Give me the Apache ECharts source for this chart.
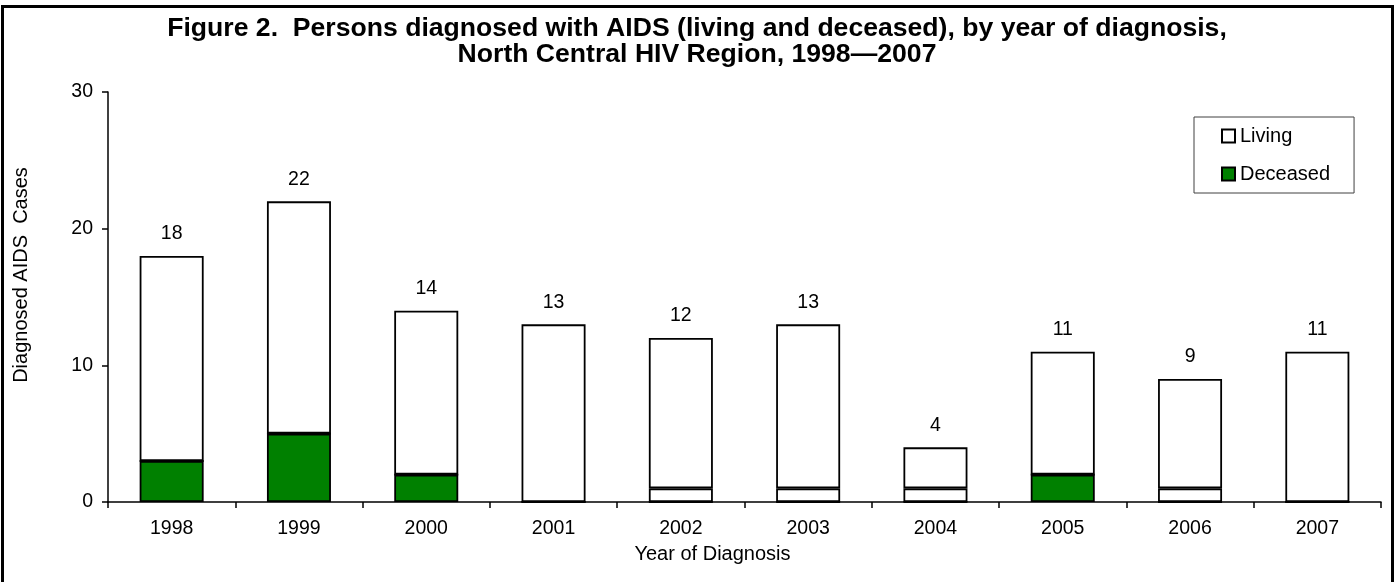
<!DOCTYPE html>
<html>
<head>
<meta charset="utf-8">
<script src="https://cdn.jsdelivr.net/npm/echarts@6/dist/echarts.min.js"></script>
<style>
html,body{margin:0;padding:0;background:#fff;}
#frame{position:absolute;left:1px;top:5px;width:1393px;height:600px;box-sizing:border-box;border:3.5px solid #000;}
#chart{position:absolute;left:0;top:0;width:1394px;height:582px;}
</style>
</head>
<body>
<div id="frame"></div>
<div id="chart"></div>
<script>
const years = ['1998','1999','2000','2001','2002','2003','2004','2005','2006','2007'];
const deceased = [3,5,2,0,0,0,0,2,0,0];
const unmarked = [0,0,0,0,1,1,1,0,1,0];
const living = [15,17,12,13,11,12,3,9,8,11];
const yTicks = [0,10,20,30];

const chart = echarts.init(document.getElementById('chart'), null, {renderer:'canvas'});
const font = 'Liberation Sans, Arial, sans-serif';
const barStyle = (fill) => ({color: fill, borderColor:'#000', borderWidth:1.8});

chart.setOption({
  backgroundColor: 'transparent',
  animation: false,
  textStyle: {fontFamily: font, color:'#000'},
  title: {
    text: 'Figure 2.  Persons diagnosed with AIDS (living and deceased), by year of diagnosis,\nNorth Central HIV Region, 1998\u20142007',
    left: 'center',
    top: 16,
    padding: 0,
    textStyle: {fontFamily: font, fontSize: 26.6, fontWeight: 'bold', color:'#000', lineHeight: 26}
  },
  legend: {
    data: ['Living','Deceased'],
    orient: 'vertical',
    left: 1194,
    top: 117,
    padding: [9, 24, 9, 27],
    itemGap: 18,
    itemWidth: 13,
    itemHeight: 13,
    icon: 'rect',
    borderColor: '#404040',
    borderWidth: 1,
    textStyle: {fontFamily: font, fontSize: 20, color:'#000'}
  },
  grid: {left: 108, right: 13, top: 92, bottom: 80, containLabel: false},
  xAxis: {
    type: 'category',
    data: years,
    name: 'Year of Diagnosis',
    nameLocation: 'middle',
    nameGap: 42,
    nameTextStyle: {fontFamily: font, fontSize: 20, color:'#000', verticalAlign:'top', padding: [0, 64, 0, 0]},
    axisLine: {lineStyle: {color:'#000', width: 1.5}},
    axisTick: {show: true, inside: false, length: 6, lineStyle:{color:'#000', width:1.5}, alignWithLabel: false},
    axisLabel: {fontFamily: font, fontSize: 19.5, color:'#000', margin: 17},
    splitLine: {show:false}
  },
  yAxis: {
    type: 'value',
    min: 0, max: 30, interval: 10,
    name: 'Diagnosed AIDS  Cases',
    nameLocation: 'middle',
    nameGap: 77,
    nameRotate: 90,
    nameTextStyle: {fontFamily: font, fontSize: 20, color:'#000', padding: [0, 0, 0, 44]},
    axisLine: {show: true, lineStyle: {color:'#000', width: 1.5}},
    axisTick: {show: true, length: 6, lineStyle:{color:'#000', width:1.5}},
    axisLabel: {fontFamily: font, fontSize: 19.5, color:'#000', margin: 15,
      formatter: (v) => yTicks.includes(v) ? String(v) : ''},
    splitLine: {show: false}
  },
  series: [
    {name:'Deceased', type:'bar', stack:'t', data: deceased, barWidth: 64, itemStyle: barStyle('#008000')},
    {name:'Unmarked', type:'bar', stack:'t', data: unmarked, barWidth: 64, itemStyle: barStyle('#ffffff')},
    {name:'Living', type:'bar', stack:'t', data: living, barWidth: 64, itemStyle: barStyle('#ffffff'),
      label: {show: true, position: 'top', distance: 12, fontFamily: font, fontSize: 19.5, color:'#000',
        formatter: (p) => String(deceased[p.dataIndex] + unmarked[p.dataIndex] + living[p.dataIndex])}}
  ]
});
</script>
</body>
</html>
